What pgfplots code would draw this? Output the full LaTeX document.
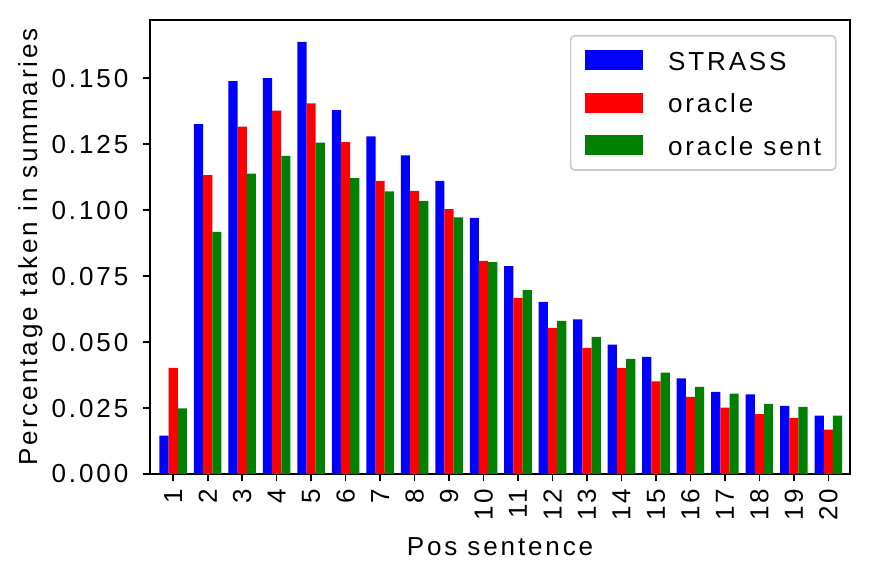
\documentclass[border=0pt]{standalone}
\usepackage{fontspec}
\setmainfont{Liberation Sans}[LetterSpace=11]
\usepackage{pgfplots}
\pgfplotsset{compat=1.18}
\usepackage{pgfplotstable}
\definecolor{mplgreen}{RGB}{0,128,0}
\pgfplotstableread{
x strass oracle osent
1 0.0145 0.0402 0.0249
2 0.1326 0.1133 0.0918
3 0.1489 0.1317 0.1139
4 0.1501 0.1377 0.1206
5 0.1638 0.1405 0.1256
6 0.1379 0.1258 0.1122
7 0.1280 0.1111 0.1071
8 0.1208 0.1073 0.1035
9 0.1111 0.1004 0.0973
10 0.0971 0.0808 0.0803
11 0.0788 0.0668 0.0697
12 0.0652 0.0554 0.0580
13 0.0586 0.0478 0.0520
14 0.0490 0.0402 0.0436
15 0.0444 0.0351 0.0384
16 0.0362 0.0292 0.0330
17 0.0311 0.0252 0.0305
18 0.0302 0.0227 0.0266
19 0.0258 0.0213 0.0254
20 0.0221 0.0168 0.0221
}\datatable
\begin{document}
\begin{tikzpicture}[font=\fontsize{12.5}{15}\selectfont]
\useasboundingbox (-72pt,-50.4pt) rectangle (346.56pt,227.52pt);
\begin{axis}[
  at={(0,0)}, anchor=south west,
  scale only axis,
  width=336pt, height=217.92pt,
  xmin=0.327, xmax=20.627,
  ymin=0, ymax=0.1721,
  ybar, bar width=0.2667,
  axis line style={line width=0.9pt},
  tick style={line width=0.8pt, black},
  tick align=outside,
  major tick length=3.5pt,
  xtick pos=bottom, ytick pos=left,
  xtick={1,...,20},
  ytick={0,0.025,0.05,0.075,0.1,0.125,0.15},
  scaled y ticks=false,
  yticklabel style={xshift=-3.4pt, /pgf/number format/.cd, fixed, fixed zerofill, precision=3, assume math mode=true},
  xticklabel style={rotate=90, anchor=east, /pgf/number format/assume math mode=true},
  xlabel={Pos sentence},
  ylabel={Percentage taken in summaries},
  xlabel style={at={(axis description cs:0.5,0)}, anchor=north, inner sep=0pt, yshift=-30.2pt},
  ylabel style={at={(axis description cs:-0.153,0.5)}, anchor=south, inner sep=0pt},
  legend cell align=left,
  legend image code/.code={\fill[#1, sharp corners] (0pt,-4.8pt) rectangle (27.8pt,4.8pt);},
  legend style={at={(0.981,0.967)}, anchor=north east, draw=black!20, line width=0.8pt,
    rounded corners=2pt, fill=white, inner xsep=7pt, inner ysep=7pt,
    row sep=10.8pt, column sep=12pt,
    nodes={inner sep=0pt, text depth=0pt, text height=9.3pt}},
]
\addplot[fill=blue, draw=none, bar shift=-0.2667] table[x=x, y=strass] {\datatable};
\addplot[fill=red, draw=none, bar shift=0] table[x=x, y=oracle] {\datatable};
\addplot[fill=mplgreen, draw=none, bar shift=0.2667] table[x=x, y=osent] {\datatable};
\legend{STRASS, oracle, oracle sent}
\end{axis}
\end{tikzpicture}
\end{document}
